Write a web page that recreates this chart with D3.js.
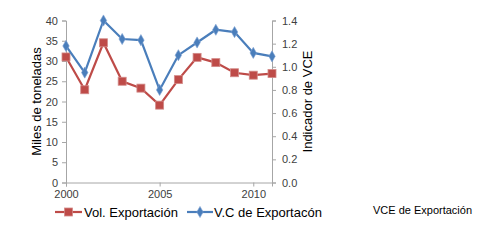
<!DOCTYPE html>
<html>
<head>
<meta charset="utf-8">
<script src="https://cdn.jsdelivr.net/npm/d3@7"></script>
<style>
  body { margin: 0; background: #fff; }
  svg { font-family: "Liberation Sans", Arial, sans-serif; }
</style>
</head>
<body>
<div id="chart"></div>
<script>
const years = [2000, 2001, 2002, 2003, 2004, 2005, 2006, 2007, 2008, 2009, 2010, 2011];
const volExport = [31.0, 22.9, 34.5, 25.0, 23.3, 19.1, 25.4, 30.9, 29.6, 27.1, 26.5, 26.9];
const vcExport = [1.18, 0.95, 1.40, 1.24, 1.23, 0.80, 1.10, 1.21, 1.32, 1.30, 1.12, 1.09];
const leftTicks = [0, 5, 10, 15, 20, 25, 30, 35, 40];
const rightTicks = [0, 0.2, 0.4, 0.6, 0.8, 1.0, 1.2, 1.4];
const xTicks = [2000, 2005, 2010];

const W = 490, H = 240;
const plot = { left: 66, right: 272, top: 20.5, bottom: 182.5 };

const svg = d3.select("#chart").append("svg")
    .attr("width", W)
    .attr("height", H);

const x = d3.scaleLinear().domain([2000, 2011]).range([plot.left, plot.right]);
const yL = d3.scaleLinear().domain([0, 40]).range([plot.bottom, plot.top]);
const yR = d3.scaleLinear().domain([0, 1.4]).range([plot.bottom, plot.top]);

const axisColor = "#a6a6a6";
const textColor = "#404040";

// left axis
const gL = svg.append("g")
    .attr("transform", `translate(${plot.left},0)`)
    .call(d3.axisLeft(yL).tickValues(leftTicks).tickSize(4).tickPadding(4));
gL.select(".domain").attr("stroke", axisColor);
gL.selectAll(".tick line").attr("stroke", axisColor);
gL.selectAll("text").attr("fill", textColor).style("font-size", "11px");

// right axis
const gR = svg.append("g")
    .attr("transform", `translate(${plot.right},0)`)
    .call(d3.axisRight(yR).tickValues(rightTicks).tickFormat(d3.format(".1f")).tickSize(4).tickPadding(6));
gR.select(".domain").attr("stroke", axisColor);
gR.selectAll(".tick line").attr("stroke", axisColor);
gR.selectAll("text").attr("fill", textColor).style("font-size", "11px");

// bottom axis
const gB = svg.append("g")
    .attr("transform", `translate(0,${plot.bottom})`)
    .call(d3.axisBottom(x).tickValues(xTicks).tickFormat(d3.format("d")).tickSize(4).tickPadding(4));
gB.select(".domain").attr("stroke", axisColor);
gB.selectAll(".tick line").attr("stroke", axisColor);
gB.selectAll("text").attr("fill", textColor).style("font-size", "11px");

// axis titles
svg.append("text")
    .attr("transform", `translate(41,${(plot.top + plot.bottom) / 2}) rotate(-90)`)
    .attr("text-anchor", "middle")
    .style("font-size", "13px")
    .attr("fill", "#000")
    .text("Miles de toneladas");

svg.append("text")
    .attr("transform", `translate(312,${(plot.top + plot.bottom) / 2}) rotate(-90)`)
    .attr("text-anchor", "middle")
    .style("font-size", "13px")
    .attr("fill", "#000")
    .text("Indicador de VCE");

const red = "#be4b48";
const blue = "#4a7ebb";

// Vol. Exportación
svg.append("path")
    .datum(volExport)
    .attr("fill", "none")
    .attr("stroke", red)
    .attr("stroke-width", 2.2)
    .attr("d", d3.line().x((d, i) => x(years[i])).y(d => yL(d)));

svg.selectAll(".sq")
    .data(volExport)
    .enter()
    .append("rect")
    .attr("class", "sq")
    .attr("x", (d, i) => x(years[i]) - 4)
    .attr("y", d => yL(d) - 4)
    .attr("width", 8)
    .attr("height", 8)
    .attr("fill", red)
    .attr("stroke", "#d38a88")
    .attr("stroke-width", 0.8);

// V.C de Exportación
svg.append("path")
    .datum(vcExport)
    .attr("fill", "none")
    .attr("stroke", blue)
    .attr("stroke-width", 2.2)
    .attr("d", d3.line().x((d, i) => x(years[i])).y(d => yR(d)));

const diamond = d3.symbol().type(d3.symbolDiamond).size(36);
svg.selectAll(".dm")
    .data(vcExport)
    .enter()
    .append("path")
    .attr("class", "dm")
    .attr("transform", (d, i) => `translate(${x(years[i])},${yR(d)})`)
    .attr("d", diamond)
    .attr("fill", blue)
    .attr("stroke", "#7fa3d3")
    .attr("stroke-width", 0.6);

// legend
const legY = 212;
const leg1 = svg.append("g");
leg1.append("line").attr("x1", 55).attr("x2", 82).attr("y1", legY).attr("y2", legY)
    .attr("stroke", red).attr("stroke-width", 2.2);
leg1.append("rect").attr("x", 64.5).attr("y", legY - 4).attr("width", 8).attr("height", 8)
    .attr("fill", red).attr("stroke", "#d38a88").attr("stroke-width", 0.8);
leg1.append("text").attr("x", 84).attr("y", legY + 4.5)
    .style("font-size", "13px").attr("fill", "#000").text("Vol. Exportación");

const leg2 = svg.append("g");
leg2.append("line").attr("x1", 187).attr("x2", 213).attr("y1", legY).attr("y2", legY)
    .attr("stroke", blue).attr("stroke-width", 2.2);
leg2.append("path").attr("transform", `translate(200,${legY})`).attr("d", diamond)
    .attr("fill", blue).attr("stroke", "#7fa3d3").attr("stroke-width", 0.6);
leg2.append("text").attr("x", 214).attr("y", legY + 4.5)
    .style("font-size", "13px").attr("fill", "#000").text("V.C de Exportacón");

svg.append("text")
    .attr("x", 373).attr("y", 214)
    .style("font-size", "11px")
    .attr("fill", "#000")
    .text("VCE de Exportación");
</script>
</body>
</html>
